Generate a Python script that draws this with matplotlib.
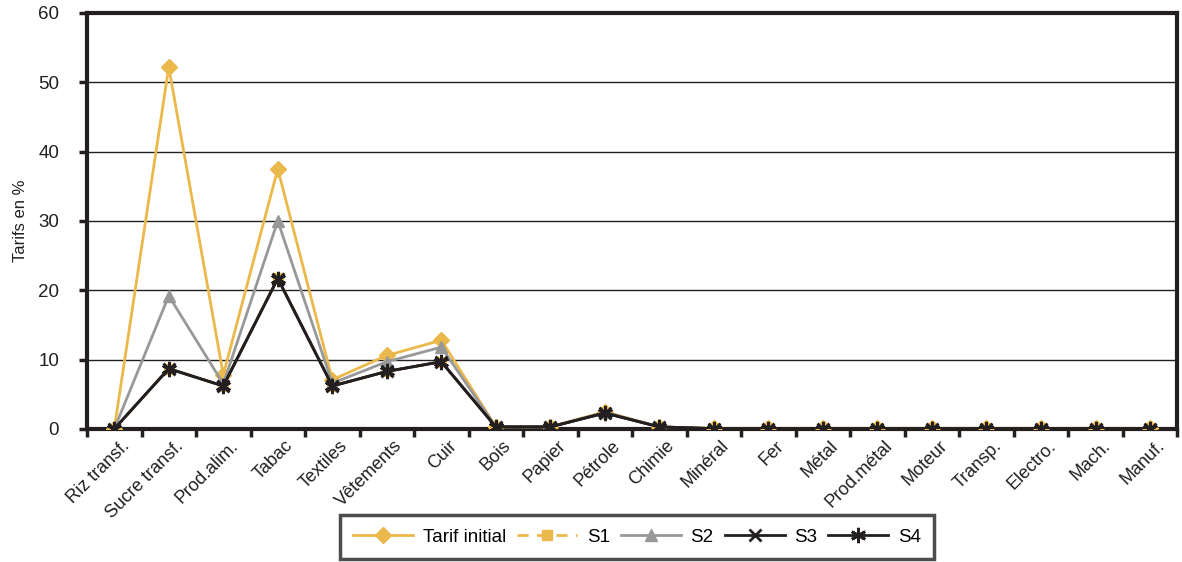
import matplotlib
matplotlib.use("Agg")
import matplotlib.pyplot as plt
import numpy as np

categories = ["Riz transf.", "Sucre transf.", "Prod.alim.", "Tabac", "Textiles",
              "Vêtements", "Cuir", "Bois", "Papier", "Pétrole", "Chimie", "Minéral",
              "Fer", "Métal", "Prod.métal", "Moteur", "Transp.", "Electro.", "Mach.", "Manuf."]
tarif_initial = [0, 52.2, 7.8, 37.5, 7.1, 10.6, 12.8, 0.3, 0.3, 2.5, 0.3, 0.1,
                 0.1, 0.1, 0.1, 0.1, 0.1, 0.1, 0.1, 0.1]
s1 = [0, 8.7, 6.2, 21.8, 6.2, 8.3, 9.7, 0.3, 0.3, 2.3, 0.3, 0.05,
      0.05, 0.05, 0.05, 0.05, 0.05, 0.05, 0.05, 0.05]
s2 = [0, 19.2, 6.5, 30.0, 6.6, 9.7, 11.8, 0.3, 0.3, 2.4, 0.3, 0.05,
      0.05, 0.05, 0.05, 0.05, 0.05, 0.05, 0.05, 0.05]
s3 = [0, 8.7, 6.2, 21.7, 6.2, 8.3, 9.7, 0.3, 0.3, 2.3, 0.3, 0.05,
      0.05, 0.05, 0.05, 0.05, 0.05, 0.05, 0.05, 0.05]
s4 = [0, 8.7, 6.2, 21.7, 6.2, 8.3, 9.7, 0.3, 0.3, 2.3, 0.3, 0.05,
      0.05, 0.05, 0.05, 0.05, 0.05, 0.05, 0.05, 0.05]

YELLOW = "#ebb84b"
GREY = "#97989a"
BLACK = "#231f20"

plt.rcParams["font.family"] = ["Liberation Sans", "DejaVu Sans"]

fig = plt.figure(figsize=(11.82, 5.62), dpi=100)
ax = fig.add_axes([0.0736, 0.2367, 0.9224, 0.7403])
x = np.arange(len(categories))

ax.plot(x, tarif_initial, color=YELLOW, lw=2, marker="D", ms=8, label="Tarif initial", zorder=3)
ax.plot(x, s1, color=YELLOW, lw=2, ls=(0, (4, 3)), marker="s", ms=7, label="S1", zorder=4)
ax.plot(x, s2, color=GREY, lw=2, marker="^", ms=9, label="S2", zorder=5)
ax.plot(x, s3, color=BLACK, lw=2, marker="x", ms=9, mew=2, label="S3", zorder=6)
ax.plot(x, s4, color=BLACK, lw=2, marker=(6, 2, 0), ms=11, mew=2, label="S4", zorder=7)

ax.set_xlim(-0.5, len(categories) - 0.5)
ax.set_ylim(0, 60)
ax.set_yticks(range(0, 61, 10))
ax.set_xticks(np.arange(len(categories) + 1) - 0.5, minor=False)
ax.set_xticklabels([])
ax.set_xticks(x + 0.12, minor=True)
ax.set_xticklabels(categories, minor=True, rotation=45, ha="right",
                   rotation_mode="anchor", fontsize=13, color=BLACK)
ax.tick_params(axis="x", which="minor", length=0, pad=6)
ax.tick_params(axis="x", which="major", length=6, width=2.5, color=BLACK, direction="out")
ax.tick_params(axis="y", length=6, width=2.5, color=BLACK, labelsize=13.5, labelcolor=BLACK, pad=14)
ax.grid(axis="y", color=BLACK, lw=1)
ax.set_axisbelow(True)
for sp in ax.spines.values():
    sp.set_linewidth(3)
    sp.set_color(BLACK)
ax.set_ylabel("Tarifs en %", fontsize=12, color=BLACK, labelpad=7)

leg = fig.legend(loc="center", bbox_to_anchor=(0.539, 0.0445), ncol=5, fontsize=13.5,
                 frameon=True, fancybox=False, handlelength=3.2, columnspacing=0.6,
                 handletextpad=0.5, borderpad=0.7)
leg.get_frame().set_edgecolor(BLACK)
leg.get_frame().set_linewidth(2.5)

fig.savefig("out.png", dpi=100)
